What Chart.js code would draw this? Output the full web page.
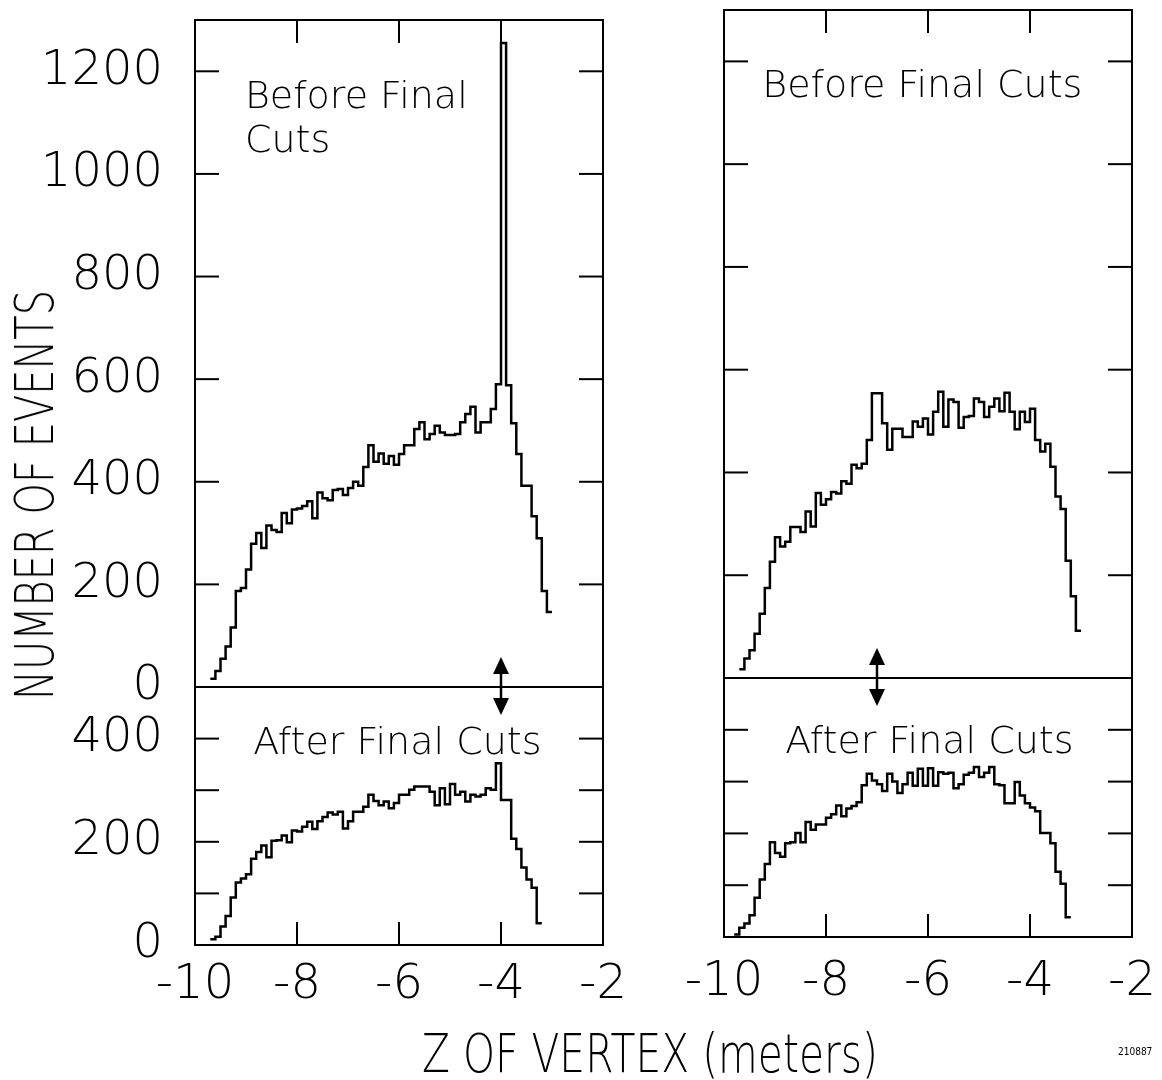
<!DOCTYPE html>
<html>
<head>
<meta charset="utf-8">
<script src="https://cdn.jsdelivr.net/npm/chart.js@4.4.1/dist/chart.umd.min.js"></script>
<style>
  body { margin: 0; background: #fff; width: 1162px; height: 1080px; position: relative; overflow: hidden; }
  canvas { position: absolute; }
  .ytitle {
    position: absolute; left: 35px; top: 495px; white-space: nowrap;
    font-family: "DejaVu Sans", sans-serif; font-weight: 200; font-size: 54px; line-height: 1;
    transform: translate(-50%, -50%) rotate(-90deg) scaleX(0.74);
  }
  .xtitle {
    position: absolute; left: 650px; top: 1053px; white-space: nowrap;
    font-family: "DejaVu Sans", sans-serif; font-weight: 200; font-size: 53px; line-height: 1;
    transform: translate(-50%, -50%) scaleX(0.77);
  }
  .figno {
    position: absolute; left: 1118px; top: 1046px;
    font-family: "DejaVu Sans Condensed", sans-serif; font-size: 10px;
  }
</style>
</head>
<body>

<canvas id="topLeft" width="680" height="800" style="left:0px; top:-50px"></canvas>
<canvas id="bottomLeft" width="680" height="480" style="left:0px; top:600px"></canvas>
<canvas id="topRight" width="680" height="790" style="left:560px; top:-50px"></canvas>
<canvas id="bottomRight" width="680" height="480" style="left:560px; top:600px"></canvas>

<div class="ytitle">NUMBER OF EVENTS</div>
<div class="xtitle">Z OF VERTEX (meters)</div>
<div class="figno">210887</div>

<script>

const binWidth = 0.1;

const beforeLeftStart = -9.7;
const beforeLeft = [16, 31, 55, 79, 116, 187, 193, 229, 279, 300,
  271, 315, 306, 302, 339, 319, 346, 348, 353, 362,
  329, 379, 368, 364, 384, 386, 374, 388, 400, 392,
  429, 471, 439, 455, 435, 450, 433, 454, 471, 471,
  503, 516, 483, 493, 509, 496, 491, 491, 493, 516,
  532, 546, 496, 516, 516, 542, 590, 1255, 588, 514,
  454, 392, 392, 333, 290, 187, 146];

const afterLeftStart = -9.7;
const afterLeft = [11, 16, 36, 56, 92, 121, 129, 137, 167, 180,
  193, 170, 202, 203, 212, 199, 222, 220, 229, 239,
  225, 240, 248, 257, 253, 258, 226, 240, 258, 258,
  268, 291, 279, 271, 278, 265, 275, 291, 291, 301,
  307, 307, 307, 297, 271, 304, 273, 312, 291, 297,
  278, 291, 288, 291, 304, 301, 352, 281, 281, 206,
  186, 150, 127, 111, 42];

const beforeRightStart = -9.7;
const beforeRight = [17, 38, 54, 86, 125, 175, 226, 274, 256, 265,
  294, 294, 284, 324, 295, 360, 337, 348, 362, 359,
  383, 378, 415, 408, 417, 463, 554, 554, 496, 444,
  485, 485, 469, 469, 499, 489, 505, 474, 518, 557,
  489, 542, 537, 487, 508, 510, 544, 537, 508, 528,
  544, 519, 555, 518, 484, 518, 498, 524, 463, 441,
  456, 411, 353, 329, 228, 159, 92];

const afterRightStart = -9.8;
const afterRight = [5, 18, 26, 42, 76, 111, 141, 183, 162, 155,
  181, 183, 201, 183, 222, 207, 217, 217, 230, 237,
  254, 233, 248, 253, 260, 293, 315, 302, 295, 282,
  315, 300, 278, 295, 317, 292, 325, 292, 326, 292,
  318, 315, 317, 287, 295, 313, 317, 328, 309, 317,
  328, 295, 293, 258, 258, 299, 273, 258, 250, 243,
  201, 201, 181, 126, 103, 38];

const xTicks = [-10, -8, -6, -4, -2];
const yTicksTop = [0, 200, 400, 600, 800, 1000, 1200];
const yTicksBottom = [0, 100, 200, 300, 400];
const yLabelsBottom = [0, 200, 400];

const tickFont = { family: 'DejaVu Sans', size: 48, weight: 200 };
const xTickFont = { family: 'DejaVu Sans', size: 48, weight: 200 };
const noteFont = '200 38px "DejaVu Sans"';

function histPoints(start, values) {
  const pts = values.map((v, i) => ({ x: +(start + i * binWidth).toFixed(2), y: v }));
  pts.push({ x: +(start + values.length * binWidth).toFixed(2), y: values[values.length - 1] });
  return pts;
}

function line(ctx, x1, y1, x2, y2) {
  ctx.beginPath();
  ctx.moveTo(x1, y1);
  ctx.lineTo(x2, y2);
  ctx.stroke();
}

function drawArrow(ctx, x, yTop, yBot) {
  const hw = 8, hh = 17;
  line(ctx, x, yTop + hh - 2, x, yBot - hh + 2);
  ctx.beginPath();
  ctx.moveTo(x, yTop); ctx.lineTo(x - hw, yTop + hh); ctx.lineTo(x + hw, yTop + hh);
  ctx.closePath(); ctx.fill();
  ctx.beginPath();
  ctx.moveTo(x, yBot); ctx.lineTo(x - hw, yBot - hh); ctx.lineTo(x + hw, yBot - hh);
  ctx.closePath(); ctx.fill();
}

// frame, inward ticks, notes and arrows
const panelPlugin = {
  id: 'panel',
  afterDraw(chart, args, opts) {
    const { ctx, chartArea: a, scales } = chart;
    const x = scales.x, y = scales.y;
    ctx.save();
    ctx.strokeStyle = '#000';
    ctx.fillStyle = '#000';
    ctx.lineWidth = 2;
    ctx.strokeRect(a.left, a.top, a.right - a.left, a.bottom - a.top);

    y.ticks.forEach(t => {
      if (t.value <= y.min || t.value >= y.max) return;
      const py = y.getPixelForValue(t.value);
      line(ctx, a.left, py, a.left + 24, py);
      line(ctx, a.right, py, a.right - 24, py);
    });
    x.ticks.forEach(t => {
      if (t.value <= x.min || t.value >= x.max) return;
      const px = x.getPixelForValue(t.value);
      if (opts.xTickSide === 'top') line(ctx, px, a.top, px, a.top + 23);
      else line(ctx, px, a.bottom, px, a.bottom - 23);
    });

    ctx.font = noteFont;
    ctx.textAlign = 'left';
    ctx.textBaseline = 'alphabetic';
    (opts.notes || []).forEach(n => {
      ctx.fillText(n.text, x.getPixelForValue(n.x), y.getPixelForValue(n.y));
    });

    if (opts.arrowX !== undefined) {
      ctx.lineWidth = 2.5;
      drawArrow(ctx, x.getPixelForValue(opts.arrowX), a.bottom - 30, a.bottom + 28);
    }
    ctx.restore();
  }
};

function buildPanel(id, p) {
  const ctx = document.getElementById(id).getContext('2d');
  new Chart(ctx, {
    type: 'line',
    data: {
      datasets: [{
        data: histPoints(p.start, p.values),
        stepped: 'before',
        borderColor: '#000',
        borderWidth: 2.5,
        pointRadius: 0,
        fill: false
      }]
    },
    options: {
      responsive: false,
      animation: false,
      events: [],
      layout: { padding: p.padding },
      plugins: {
        legend: { display: false },
        tooltip: { enabled: false },
        panel: { xTickSide: p.xTickSide, notes: p.notes, arrowX: p.arrowX }
      },
      scales: {
        x: {
          type: 'linear',
          min: -10,
          max: -2,
          afterBuildTicks: s => { s.ticks = xTicks.map(v => ({ value: v })); },
          afterFit: s => { s.height = p.xHeight; },
          grid: { display: false },
          border: { display: false },
          ticks: {
            display: p.xLabels,
            color: '#000',
            font: xTickFont,
            padding: p.xPad,
            maxRotation: 0,
            autoSkip: false,
            callback: v => '-' + Math.abs(v)
          }
        },
        y: {
          min: 0,
          max: p.yMax,
          afterBuildTicks: s => { s.ticks = p.yTicks.map(v => ({ value: v })); },
          afterFit: s => { s.width = p.yWidth; },
          grid: { display: false },
          border: { display: false },
          ticks: {
            display: p.yLabels,
            color: '#000',
            font: tickFont,
            padding: 24,
            callback: v => p.yLabelValues.includes(v) ? String(v) : ''
          }
        }
      }
    },
    plugins: [panelPlugin]
  });
}

buildPanel('topLeft', {
  start: beforeLeftStart, values: beforeLeft,
  yMax: 1300, yTicks: yTicksTop, yLabelValues: yTicksTop, yLabels: true, yWidth: 195,
  xLabels: false, xHeight: 0, xPad: 0, xTickSide: 'top',
  padding: { top: 70, right: 77, bottom: 63, left: 0 },
  notes: [{ text: 'Before Final', x: -9.02, y: 1128 }, { text: 'Cuts', x: -9.02, y: 1043 }],
  arrowX: -4
});

buildPanel('bottomLeft', {
  start: afterLeftStart, values: afterLeft,
  yMax: 500, yTicks: yTicksBottom, yLabelValues: yLabelsBottom, yLabels: true, yWidth: 195,
  xLabels: true, xHeight: 80, xPad: 4, xTickSide: 'bottom',
  padding: { top: 87, right: 77, bottom: 55, left: 0 },
  notes: [{ text: 'After Final Cuts', x: -8.86, y: 370 }]
});

buildPanel('topRight', {
  start: beforeRightStart, values: beforeRight,
  yMax: 1300, yTicks: yTicksTop, yLabelValues: [], yLabels: false, yWidth: 164,
  xLabels: false, xHeight: 0, xPad: 0, xTickSide: 'top',
  padding: { top: 60, right: 108, bottom: 62, left: 0 },
  notes: [{ text: 'Before Final Cuts', x: -9.25, y: 1130 }],
  arrowX: -7
});

buildPanel('bottomRight', {
  start: afterRightStart, values: afterRight,
  yMax: 500, yTicks: yTicksBottom, yLabelValues: [], yLabels: false, yWidth: 164,
  xLabels: true, xHeight: 80, xPad: 9, xTickSide: 'bottom',
  padding: { top: 78, right: 108, bottom: 63, left: 0 },
  notes: [{ text: 'After Final Cuts', x: -8.80, y: 355 }]
});
</script>
</body>
</html>
